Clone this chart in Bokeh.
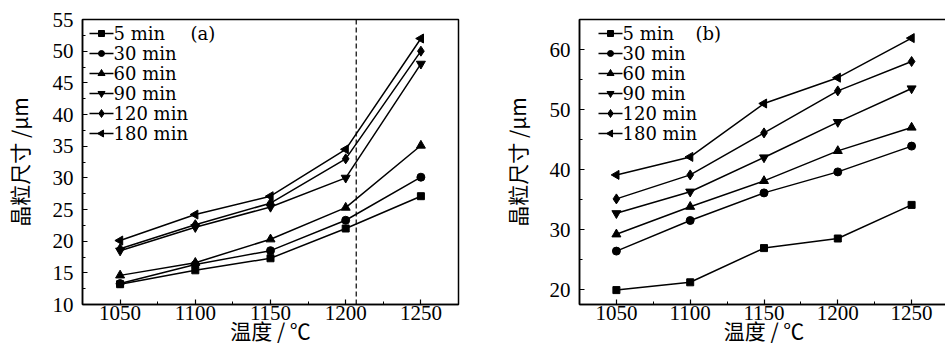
import numpy as np
from bokeh.plotting import figure
from bokeh.layouts import row
from bokeh.models import SingleIntervalTicker, Span, Label, Range1d
from bokeh.core.properties import value
from bokeh.embed import file_html
from bokeh.resources import INLINE

# Annealing temperature (°C)
temperatures = [1050, 1100, 1150, 1200, 1250]
hold_labels = ["5 min", "30 min", "60 min", "90 min", "120 min", "180 min"]

# Grain size (μm), panel (a)
a_5 = [13.2, 15.4, 17.3, 22.0, 27.1]
a_30 = [13.3, 16.3, 18.5, 23.3, 30.1]
a_60 = [14.6, 16.6, 20.3, 25.3, 35.1]
a_90 = [18.5, 22.2, 25.4, 30.0, 48.0]
a_120 = [18.8, 22.6, 26.0, 33.0, 50.0]
a_180 = [20.1, 24.2, 27.1, 34.5, 52.0]

# Grain size (μm), panel (b)
b_5 = [19.9, 21.2, 26.9, 28.5, 34.1]
b_30 = [26.4, 31.5, 36.1, 39.6, 43.9]
b_60 = [29.2, 33.8, 38.1, 43.1, 47.0]
b_90 = [32.7, 36.3, 42.0, 47.9, 53.5]
b_120 = [35.1, 39.1, 46.1, 53.1, 58.0]
b_180 = [39.1, 42.1, 51.0, 55.3, 61.9]

# Temperature marked by the dashed guide in panel (a)
threshold_temp = 1207

SERIF = "Liberation Serif"
LEGEND_FONT = "DejaVu Serif"
CJK = "Noto Sans CJK SC"
# (marker, rotation, size in plot, size in key)
MARKERS = [("square", 0.0, 7, 6), ("circle", 0.0, 8, 6), ("triangle", 0.0, 9, 7),
           ("inverted_triangle", 0.0, 9, 7), ("diamond", 0.0, 10, 8),
           ("triangle", np.pi / 2, 9, 7)]


def style_axis(ax, ticker):
    ax.ticker = ticker
    ax.axis_line_width = 1.5
    ax.major_tick_line_width = 1.2
    ax.minor_tick_line_width = 1.0
    ax.major_tick_in = 5
    ax.major_tick_out = 0
    ax.minor_tick_in = 3
    ax.minor_tick_out = 0
    ax.major_label_text_font = SERIF
    ax.major_label_text_font_size = "21px"
    ax.major_label_text_color = "black"
    ax.axis_label_text_font = CJK
    ax.axis_label_text_font_size = "21px"
    ax.axis_label_text_font_style = "normal"
    ax.axis_label_text_color = "black"


def make_panel(series, y_range, y_interval, frame_w, border_left, border_right,
               tag, tag_x, key_x0, y_label_standoff):
    frame_h = 285
    p = figure(frame_width=frame_w, frame_height=frame_h,
               output_backend="svg", toolbar_location=None,
               x_range=Range1d(1025, 1275), y_range=Range1d(*y_range),
               min_border_left=border_left, min_border_right=border_right,
               min_border_top=19, min_border_bottom=47)
    p.grid.visible = False
    p.outline_line_color = "black"
    p.outline_line_width = 1.5
    p.background_fill_color = "white"
    p.border_fill_color = "white"
    # pixel-based ranges for placing the key and panel tag inside the frame
    p.extra_x_ranges = {"px": Range1d(0, frame_w)}
    p.extra_y_ranges = {"py": Range1d(0, frame_h)}

    style_axis(p.xaxis[0], SingleIntervalTicker(interval=50, num_minor_ticks=2))
    style_axis(p.yaxis[0], SingleIntervalTicker(interval=y_interval, num_minor_ticks=2))
    p.xaxis[0].axis_label = "温度 / ℃"
    p.yaxis[0].axis_label = "晶粒尺寸 /μm"
    p.xaxis[0].major_label_standoff = 1
    p.yaxis[0].major_label_standoff = 9
    p.xaxis[0].axis_label_standoff = -8
    p.yaxis[0].axis_label_standoff = y_label_standoff

    for vals, (mk, ang, sz, _) in zip(series, MARKERS):
        p.line(temperatures, vals, line_color="black", line_width=1.5)
        p.scatter(temperatures, vals, marker=mk, angle=ang, size=sz,
                  fill_color="black", line_color="black")

    # key: short line with marker, then the hold time
    row_y = [frame_h - 14 - 20 * i for i in range(len(hold_labels))]
    glyph_w = 24
    p.segment(x0=[key_x0] * len(row_y), y0=row_y, x1=[key_x0 + glyph_w] * len(row_y), y1=row_y,
              line_color="black", line_width=1.5, x_range_name="px", y_range_name="py")
    for yy, (mk, ang, _, ksz) in zip(row_y, MARKERS):
        p.scatter([key_x0 + 12], [yy], marker=mk, angle=ang, size=ksz,
                  fill_color="black", line_color="black",
                  x_range_name="px", y_range_name="py")
    p.text(x=[key_x0 + glyph_w] * len(row_y), y=row_y, text=hold_labels,
           text_font=value(LEGEND_FONT), text_font_size=value("18px"),
           text_baseline="middle", text_align="left", text_color="black",
           x_range_name="px", y_range_name="py")

    p.add_layout(Label(x=tag_x, y=frame_h - 14, text=tag, text_font=LEGEND_FONT,
                       text_font_size="18px", text_baseline="middle", text_color="black",
                       x_range_name="px", y_range_name="py"))
    return p


pa = make_panel([a_5, a_30, a_60, a_90, a_120, a_180], (10, 55), 5,
                376, 79, 15, "(a)", 108, 7, 16)
pa.add_layout(Span(location=threshold_temp, dimension="height", line_color="black",
                   line_width=1.2, line_dash="5 3"))

pb = make_panel([b_5, b_30, b_60, b_90, b_120, b_180], (17.5, 65), 10,
                369, 106, 0, "(b)", 116, 19, 15)

layout = row(pa, pb)
open("out.html", "w").write(file_html(layout, INLINE))
